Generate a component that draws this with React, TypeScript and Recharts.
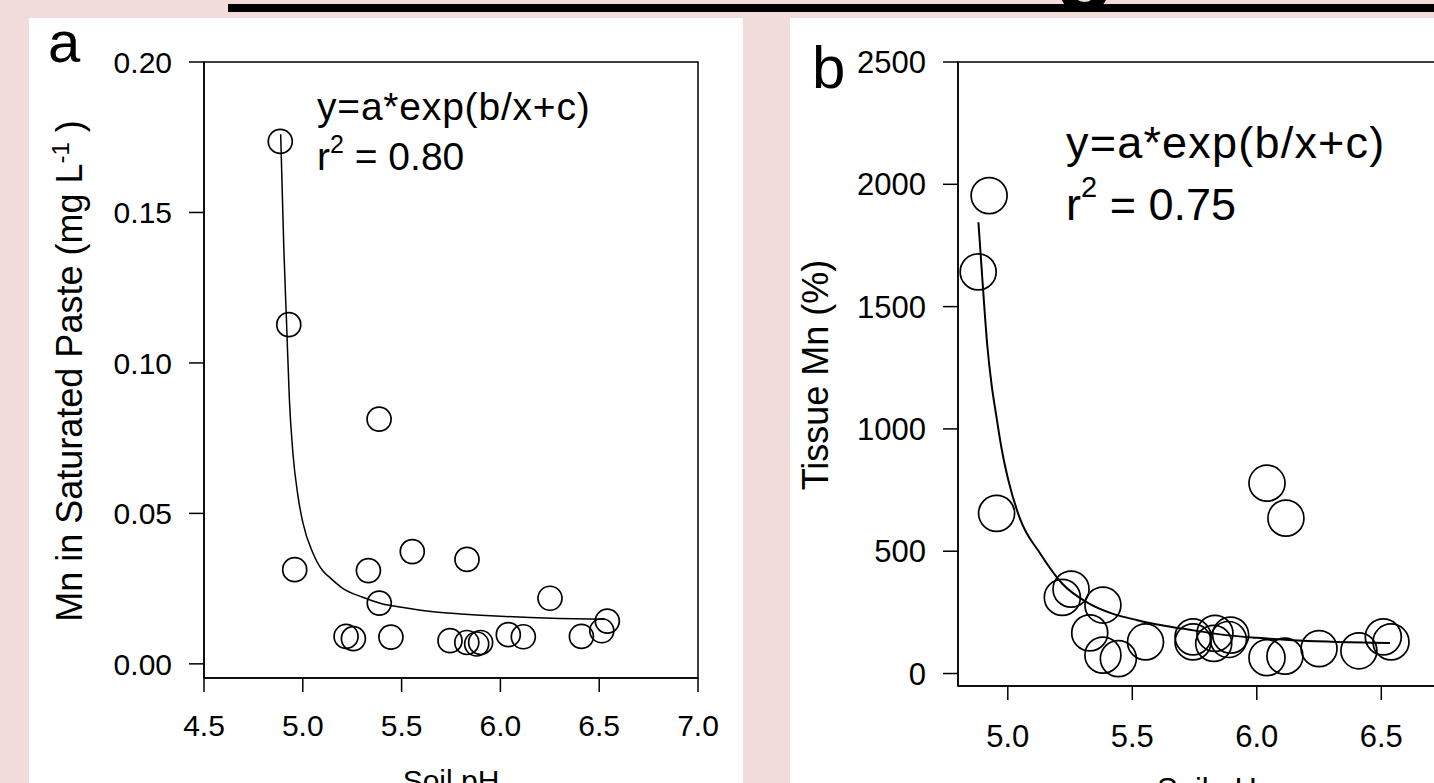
import React from 'react';
import { ComposedChart, Scatter, Line, XAxis, YAxis, ReferenceArea } from 'recharts';

const FONT = '"Liberation Sans", Arial, Helvetica, sans-serif';
const PINK = '#f2dcdb';

// ---------- Panel a: Mn in saturated paste vs soil pH ----------
const phA = [4.886, 4.929, 4.959, 5.386, 5.332, 5.554, 5.831, 5.387, 6.251, 6.541, 6.513, 6.41, 6.116, 6.04, 5.9, 5.88, 5.83, 5.745, 5.446, 5.256, 5.219];
const mnPasteA = [0.1736, 0.1127, 0.0313, 0.0813, 0.031, 0.0373, 0.0347, 0.0202, 0.0218, 0.0142, 0.011, 0.0091, 0.009, 0.0097, 0.0071, 0.0066, 0.0071, 0.0077, 0.0089, 0.0084, 0.0091];
const fitPhA = [4.888, 4.904, 4.918, 4.932, 4.95, 4.975, 5.0, 5.05, 5.1, 5.14, 5.2, 5.3, 5.4, 5.5, 5.65, 5.8, 6.0, 6.15, 6.3, 6.53];
const fitMnA = [0.176, 0.138, 0.113, 0.088, 0.07, 0.056, 0.047, 0.037, 0.031, 0.0285, 0.0252, 0.0222, 0.02, 0.0188, 0.0174, 0.0166, 0.0158, 0.0154, 0.0151, 0.0148];
const xTicksA = [4.5, 5.0, 5.5, 6.0, 6.5, 7.0];
const yTicksA = [0, 0.05, 0.1, 0.15, 0.2];

// ---------- Panel b: Tissue Mn vs soil pH ----------
const phB = [4.925, 4.881, 4.955, 6.041, 6.117, 5.254, 5.219, 5.382, 5.329, 5.382, 5.444, 5.553, 5.744, 5.744, 5.832, 5.827, 5.895, 5.886, 6.041, 6.113, 6.25, 6.41, 6.508, 6.539];
const tissueMnB = [1954, 1642, 655, 778, 635, 345, 311, 280, 166, 75, 61, 129, 150, 129, 164, 123, 157, 139, 65, 71, 102, 93, 150, 129];
const fitPhB = [4.882, 4.898, 4.918, 4.935, 4.952, 4.975, 5.002, 5.05, 5.13, 5.218, 5.325, 5.42, 5.521, 5.6, 5.699, 5.877, 6.0, 6.143, 6.3, 6.535];
const fitMnB = [1845, 1610, 1337, 1180, 1065, 920, 791, 630, 491, 368, 287, 245, 218, 200, 184, 157, 146, 136, 130, 125];
const xTicksB = [5.0, 5.5, 6.0, 6.5];
const yTicksB = [0, 500, 1000, 1500, 2000, 2500];

const pointsA = phA.map((x, i) => ({ x, y: mnPasteA[i] }));
const curveA = fitPhA.map((x, i) => ({ x, y: fitMnA[i] }));
const pointsB = phB.map((x, i) => ({ x, y: tissueMnB[i] }));
const curveB = fitPhB.map((x, i) => ({ x, y: fitMnB[i] }));

const circleShape = (r: number) => (props: any) => (
  <circle cx={props.cx} cy={props.cy} r={r} fill="none" stroke="#000" strokeWidth={1.7} />
);

export default function App() {
  const tickA = { fill: '#000', fontSize: 30, fontFamily: FONT };
  const tickB = { fill: '#000', fontSize: 31, fontFamily: FONT };
  const line = { stroke: '#000', strokeWidth: 1.5 };
  return (
    <div style={{ position: 'fixed', left: 0, top: 0, width: 1434, height: 783, overflow: 'hidden', background: PINK, fontFamily: FONT }}>
      <div style={{ position: 'absolute', left: 29, top: 18, width: 714, height: 765, background: '#fff' }} />
      <div style={{ position: 'absolute', left: 790, top: 18, width: 644, height: 765, background: '#fff' }} />

      <div style={{ position: 'absolute', left: 0, top: 0, width: 743, height: 783 }}>
        <ComposedChart width={743} height={783} margin={{ top: 62, right: 45, bottom: 0, left: 104 }}>
          <XAxis
            type="number" dataKey="x" domain={[4.5, 7.0]} ticks={xTicksA} allowDataOverflow
            tickFormatter={(v: number) => v.toFixed(1)} height={105} tickSize={14} tickMargin={23}
            tick={tickA} axisLine={line} tickLine={line} interval={0}
            label={{ value: 'Soil pH', position: 'insideBottom', offset: -8, fill: '#000', fontSize: 30, fontFamily: FONT }}
          />
          <YAxis
            type="number" dataKey="y" domain={[-0.0047, 0.2]} ticks={yTicksA} allowDataOverflow
            tickFormatter={(v: number) => v.toFixed(2)} width={100} tickSize={15} tickMargin={17}
            tick={tickA} axisLine={line} tickLine={line} interval={0}
          />
          <ReferenceArea x1={4.5} x2={7.0} y1={-0.0047} y2={0.2} fill="none" fillOpacity={0} stroke="#000" strokeWidth={1.5} ifOverflow="visible" />
          <Line data={curveA} dataKey="y" type="monotone" stroke="#000" strokeWidth={1.5} dot={false} activeDot={false} isAnimationActive={false} />
          <Scatter data={pointsA} shape={circleShape(12)} isAnimationActive={false} />
        </ComposedChart>
      </div>

      <div style={{ position: 'absolute', left: 790, top: 0, width: 644, height: 783, overflow: 'hidden' }}>
        <ComposedChart width={700} height={783} margin={{ top: 62, right: 34, bottom: 0, left: 68 }}>
          <XAxis
            type="number" dataKey="x" domain={[4.8, 6.8]} ticks={xTicksB} allowDataOverflow
            tickFormatter={(v: number) => v.toFixed(1)} height={97} tickSize={14} tickMargin={25}
            tick={tickB} axisLine={line} tickLine={line} interval={0}
            label={{ value: 'Soil pH', position: 'insideBottom', offset: -17, fill: '#000', fontSize: 31, fontFamily: FONT }}
          />
          <YAxis
            type="number" dataKey="y" domain={[-51, 2500]} ticks={yTicksB} allowDataOverflow
            width={100} tickSize={15} tickMargin={17}
            tick={tickB} axisLine={line} tickLine={line} interval={0}
          />
          <ReferenceArea x1={4.8} x2={6.8} y1={-51} y2={2500} fill="none" fillOpacity={0} stroke="#000" strokeWidth={1.5} ifOverflow="visible" />
          <Line data={curveB} dataKey="y" type="monotone" stroke="#000" strokeWidth={2} dot={false} activeDot={false} isAnimationActive={false} />
          <Scatter data={pointsB} shape={circleShape(18)} isAnimationActive={false} />
        </ComposedChart>
      </div>

      <svg width={1434} height={783} style={{ position: 'absolute', left: 0, top: 0, pointerEvents: 'none' }} fontFamily={FONT}>
        <rect x={228} y={4} width={1206} height={8} fill="#000" />
        <text x={1085} y={-10} textAnchor="middle" fontSize={100} fontWeight="bold" fill="#000">g</text>

        <text x={48} y={62} fontSize={58} fill="#000">a</text>
        <text x={812} y={88} fontSize={60} fill="#000">b</text>

        <text transform="translate(82,371) rotate(-90)" textAnchor="middle" fontSize={36} fill="#000">
          Mn in Saturated Paste (mg L<tspan fontSize={24} dy={-13}>-1</tspan><tspan dy={13}> )</tspan>
        </text>
        <text transform="translate(828,375) rotate(-90)" textAnchor="middle" fontSize={36} fill="#000">Tissue Mn (%)</text>

        <text x={317} y={120} fontSize={39} letterSpacing={0.8} fill="#000">y=a*exp(b/x+c)</text>
        <text x={317} y={170} fontSize={39} fill="#000">
          r<tspan fontSize={25} dy={-17}>2</tspan><tspan dy={17}> = 0.80</tspan>
        </text>

        <text x={1066} y={158} fontSize={45} letterSpacing={1.2} fill="#000">y=a*exp(b/x+c)</text>
        <text x={1066} y={220} fontSize={45} fill="#000">
          r<tspan fontSize={29} dy={-23}>2</tspan><tspan dy={23}> = 0.75</tspan>
        </text>
      </svg>
    </div>
  );
}
